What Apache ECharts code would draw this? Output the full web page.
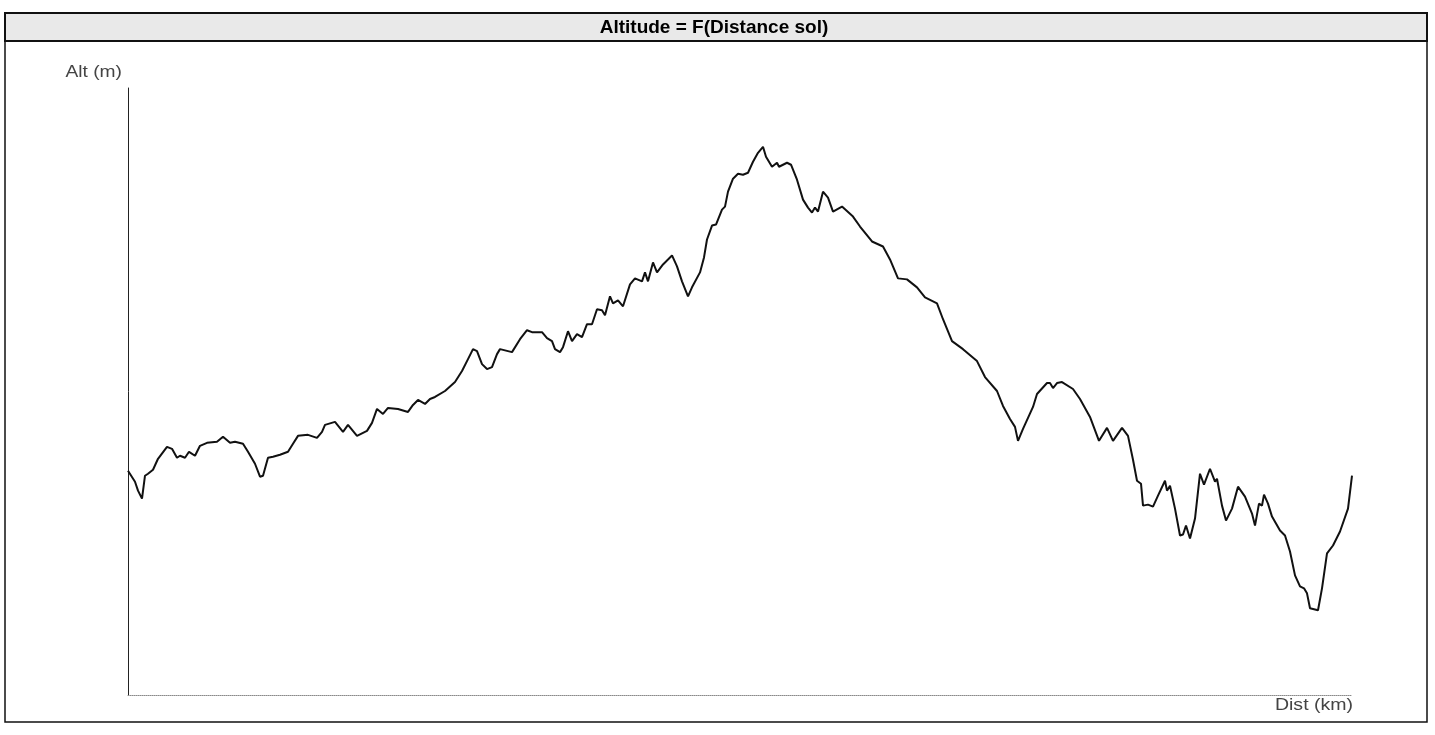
<!DOCTYPE html>
<html>
<head>
<meta charset="utf-8">
<script src="https://cdn.jsdelivr.net/npm/echarts@6/dist/echarts.min.js"></script>
<style>
html,body{margin:0;padding:0;background:#fff;}
#chart{width:1435px;height:735px;}
</style>
</head>
<body>
<div id="chart"></div>
<script>
// Distance along ground (km) and altitude (m)
var distKm = [0,0.1,0.35,0.5,0.7,0.85,1.0,1.25,1.5,1.95,2.2,2.45,2.6,2.85,3.05,3.35,3.6,3.95,4.45,4.75,5.1,5.35,5.75,6.0,6.35,6.6,6.75,7.0,7.25,7.6,8.0,8.25,8.5,9.0,9.45,9.7,9.85,10.35,10.75,11.0,11.45,11.95,12.2,12.45,12.75,13.0,13.5,14.0,14.25,14.5,14.85,15.1,15.35,15.85,16.35,16.7,17.0,17.25,17.45,17.7,17.95,18.2,18.45,18.6,19.2,19.6,19.95,20.2,20.7,20.95,21.2,21.35,21.6,21.75,22.0,22.2,22.45,22.7,22.95,23.2,23.45,23.7,23.85,24.1,24.25,24.5,24.75,25.1,25.35,25.7,25.85,26.0,26.25,26.45,26.75,27.2,27.45,27.7,28.0,28.2,28.6,28.8,28.95,29.2,29.4,29.7,29.85,30.0,30.25,30.5,30.75,31.0,31.25,31.5,31.75,31.9,32.2,32.45,32.55,32.95,33.15,33.45,33.75,34.0,34.2,34.35,34.5,34.75,35.0,35.25,35.7,36.25,36.6,37.2,37.75,38.1,38.5,38.95,39.45,39.85,40.45,40.75,41.2,41.75,42.45,42.85,43.45,43.75,44.1,44.35,44.5,44.75,45.25,45.45,45.95,46.1,46.25,46.45,46.7,47.25,47.6,48.1,48.55,48.95,49.25,49.7,50.0,50.25,50.45,50.65,50.75,51.0,51.25,51.5,51.85,51.95,52.1,52.35,52.6,52.75,52.9,53.1,53.35,53.6,53.8,54.1,54.35,54.45,54.7,54.9,55.2,55.5,55.85,56.2,56.35,56.55,56.7,56.8,57.0,57.2,57.6,57.85,58.1,58.35,58.6,58.8,58.95,59.1,59.5,59.7,59.95,60.25,60.6,61.0,61.2];
var altM = [562.5,565,535,512.5,492.5,550,555,565,592.5,622.5,617.5,595,600,595,610,600,625,632.5,635,647.5,632.5,635,630,610,580,547.5,550,595,597.5,602.5,610,630,650,652.5,645,660,677.5,685,660,677.5,650,662.5,682.5,717.5,705,720,717.5,710,727.5,740,730,742.5,747.5,762.5,785,812.5,842.5,867.5,862.5,830,817.5,822.5,855,867.5,860,892.5,915,910,910,895,887.5,867.5,860,872.5,912.5,887.5,905,897.5,930,930,967.5,965,952.5,1000,982.5,990,975,1030,1045,1037.5,1060,1037.5,1085,1060,1080,1102.5,1075,1037.5,1000,1022.5,1060,1097.5,1142.5,1177.5,1180,1217.5,1225,1262.5,1295,1307.5,1305,1310,1337.5,1360,1375,1350,1325,1335,1325,1335,1330,1292.5,1242.5,1222.5,1210,1222.5,1212.5,1262.5,1247.5,1212.5,1225,1200,1175,1137.5,1125,1092.5,1045,1042.5,1022.5,997.5,982.5,942.5,887.5,867.5,837.5,797.5,762.5,725,692.5,672.5,637.5,667.5,722.5,755,782.5,782.5,770,782.5,785,767.5,742.5,697.5,637.5,670,637.5,670,650,590,537.5,530,475,477.5,472.5,500,537.5,512.5,525,467.5,400,402.5,425,392.5,442.5,555,527.5,567.5,535,542.5,475,437.5,467.5,522.5,497.5,455,425,480,475,502.5,480,447.5,412.5,400,360,300,272.5,267.5,255,217.5,212.5,267.5,355,375,410,467.5,550];

var titleText = "Altitude = F(Distance sol)";
var yAxisName = "Alt (m)";
var xAxisName = "Dist (km)";

var pts = distKm.map(function(d, i){ return [d, altM[i]]; });

var chart = echarts.init(document.getElementById('chart'), null, {renderer:'canvas'});
chart.setOption({
  backgroundColor: '#ffffff',
  animation: false,
  grid: {left: 128, right: 83, top: 88, bottom: 40, containLabel: false},
  xAxis: {
    type: 'value', min: 0, max: 61.2,
    axisLine: {show: true, lineStyle: {color: '#8a8a8a', width: 1, type: 'dotted'}},
    axisTick: {show: false}, axisLabel: {show: false}, splitLine: {show: false}
  },
  yAxis: {
    type: 'value', min: 0, max: 1522.5,
    axisLine: {show: true, lineStyle: {color: '#222', width: 1}},
    axisTick: {show: false}, axisLabel: {show: false}, splitLine: {show: false}
  },
  series: [{
    type: 'line', data: pts, showSymbol: false, smooth: false,
    lineStyle: {color: '#111', width: 2}
  }],
  graphic: [
    {type: 'rect', shape: {x: 5, y: 13, width: 1422, height: 709}, style: {fill: 'none', stroke: '#111', lineWidth: 1.5}, silent: true},
    {type: 'rect', shape: {x: 5, y: 13, width: 1422, height: 28}, style: {fill: '#e9e9e9', stroke: '#111', lineWidth: 2}, silent: true},
    {type: 'text', x: 714, y: 28, style: {text: titleText, font: 'bold 19px "Liberation Sans", Arial, sans-serif', fill: '#000', align: 'center', verticalAlign: 'middle'}, silent: true},
    {type: 'text', x: 122, y: 73, scaleX: 1.2, originX: 0, originY: 0, style: {text: yAxisName, font: '16px "Liberation Sans", Arial, sans-serif', fill: '#444', align: 'right', verticalAlign: 'middle'}, silent: true},
    {type: 'text', x: 1353, y: 706, scaleX: 1.22, originX: 0, originY: 0, style: {text: xAxisName, font: '16px "Liberation Sans", Arial, sans-serif', fill: '#444', align: 'right', verticalAlign: 'middle'}, silent: true}
  ]
});
</script>
</body>
</html>
